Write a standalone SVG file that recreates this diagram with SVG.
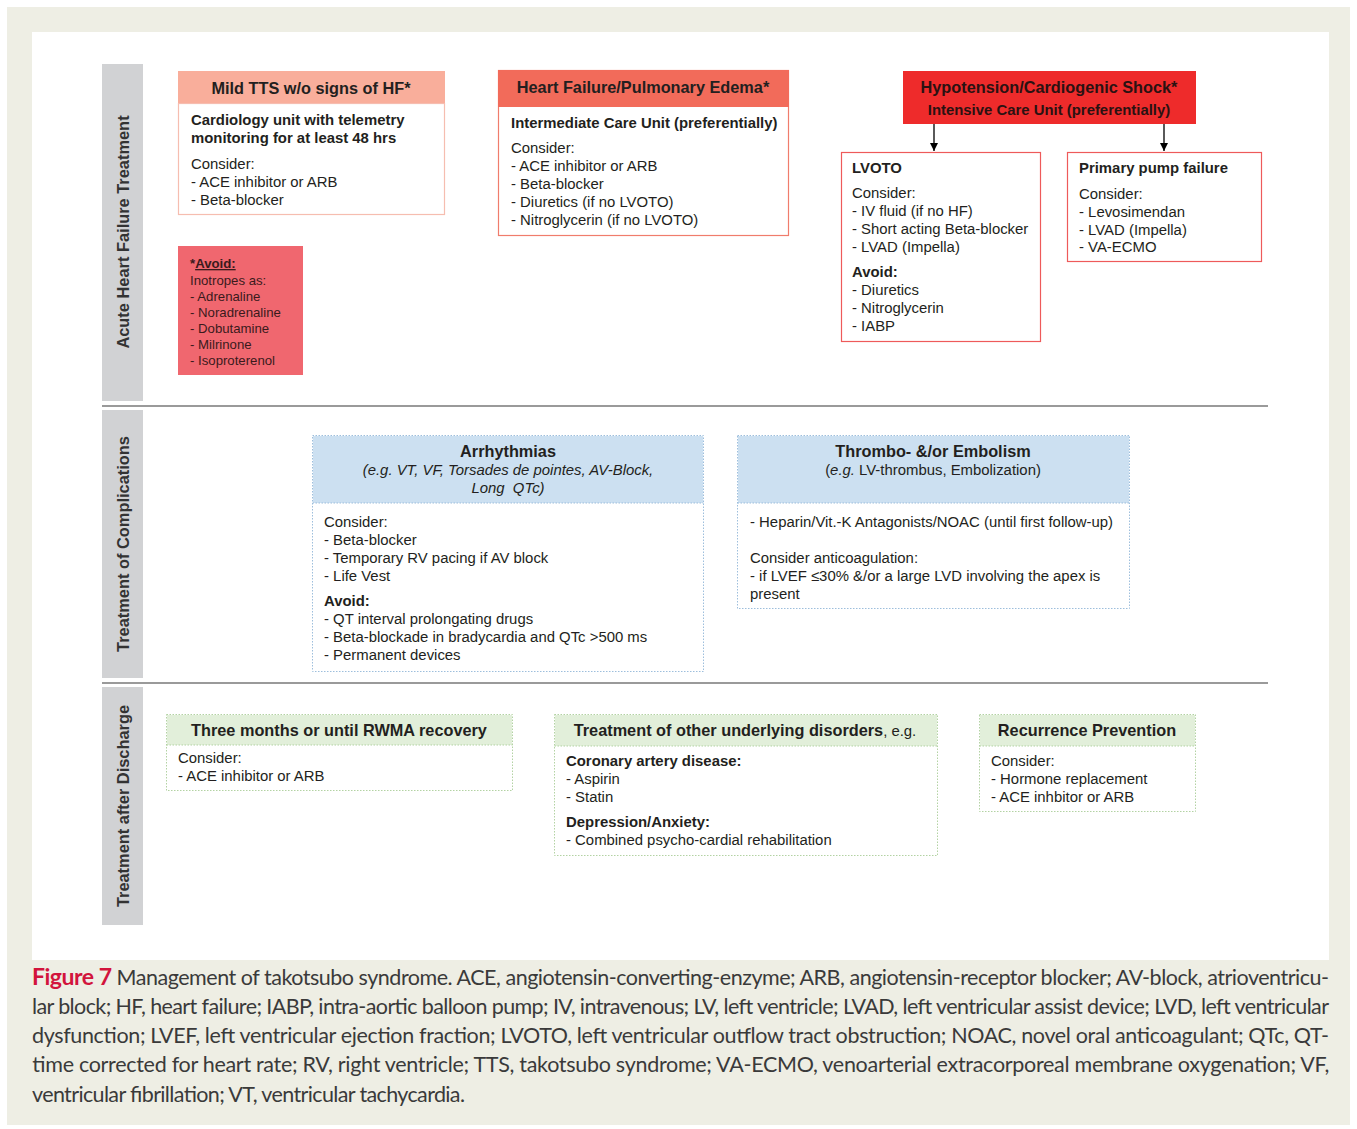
<svg xmlns="http://www.w3.org/2000/svg" width="1357" height="1129" viewBox="0 0 1357 1129">
<style>
  text { font-family: "Liberation Sans", Arial, sans-serif; fill: #231F20; }
  .t { font-size: 14.9px; }
  .b { font-weight: bold; }
  .h { font-size: 16.3px; font-weight: bold; }
  .av { font-size: 13.2px; fill: #3A1A1C; }
  .band { fill: #D1D2D4; }
  .bl { font-size: 16.4px; font-weight: bold; fill: #333; }
  .sep { stroke: #9A9A9A; stroke-width: 2.2; }
  .blueH { fill: #CCE0F1; }
  .blueB { fill: #FFFFFF; stroke: #9DBEDC; stroke-width: 1; stroke-dasharray: 1.5 1.5; }
  .greenH { fill: #E2EFDA; }
  .greenB { fill: #FFFFFF; stroke: #B3D2A3; stroke-width: 1; stroke-dasharray: 1.5 1.5; }
  .cap { font-family: Lato, "Open Sans", sans-serif; font-size: 21.5px; fill: #3A3A3A; }
  .arrow { stroke: #000; stroke-width: 1.3; }
</style>
<defs>
  <marker id="ah" viewBox="0 0 10 10" refX="10" refY="5" markerWidth="8" markerHeight="8" markerUnits="userSpaceOnUse" orient="auto">
    <path d="M0,0 L10,5 L0,10 Z" fill="#000"/>
  </marker>
</defs>

<rect x="0" y="0" width="1357" height="1129" fill="#FFFFFF"/>
<rect x="7" y="7" width="1343" height="1118" fill="#EEEEE4"/>
<rect x="32" y="32" width="1297" height="928" fill="#FFFFFF"/>

<!-- Section bands -->
<g id="band-acute">
  <rect class="band" x="102" y="64" width="41" height="337"/>
  <text class="bl" text-anchor="middle" transform="translate(128.5,232) rotate(-90)">Acute Heart Failure Treatment</text>
</g>
<g id="band-complications">
  <rect class="band" x="102" y="410" width="41" height="268"/>
  <text class="bl" text-anchor="middle" transform="translate(128.5,544) rotate(-90)">Treatment of Complications</text>
</g>
<g id="band-discharge">
  <rect class="band" x="102" y="687" width="41" height="238"/>
  <text class="bl" text-anchor="middle" transform="translate(128.5,806) rotate(-90)">Treatment after Discharge</text>
</g>
<line class="sep" x1="102" y1="406" x2="1268" y2="406"/>
<line class="sep" x1="102" y1="683" x2="1268" y2="683"/>

<!-- Mild TTS -->
<g id="mild-tts">
  <rect x="178.5" y="103.5" width="266" height="111" fill="#FFFFFF" stroke="#F6BDB0" stroke-width="1.2"/>
  <rect x="178" y="71" width="267" height="32" fill="#F9AE9B"/>
  <text class="h" x="311" y="94" text-anchor="middle">Mild TTS w/o signs of HF*</text>
  <text class="t b" x="191" y="125">Cardiology unit with telemetry</text>
  <text class="t b" x="191" y="143">monitoring for at least 48 hrs</text>
  <text class="t" x="191" y="169">Consider:</text>
  <text class="t" x="191" y="187">- ACE inhibitor or ARB</text>
  <text class="t" x="191" y="205">- Beta-blocker</text>
</g>

<!-- Avoid inotropes -->
<g id="avoid-inotropes">
  <rect x="178" y="246" width="125" height="129" fill="#F0676F"/>
  <text class="av b" x="190" y="268">*<tspan text-decoration="underline">Avoid:</tspan></text>
  <text class="av" x="190" y="285">Inotropes as:</text>
  <text class="av" x="190" y="301">- Adrenaline</text>
  <text class="av" x="190" y="317">- Noradrenaline</text>
  <text class="av" x="190" y="333">- Dobutamine</text>
  <text class="av" x="190" y="349">- Milrinone</text>
  <text class="av" x="190" y="365">- Isoproterenol</text>
</g>

<!-- Heart failure -->
<g id="heart-failure">
  <rect x="498.5" y="70.5" width="290" height="165" fill="#FFFFFF" stroke="#F07C6C" stroke-width="1.2"/>
  <rect x="498" y="70" width="291" height="37" fill="#F26B5A"/>
  <text class="h" x="643" y="93" text-anchor="middle">Heart Failure/Pulmonary Edema*</text>
  <text class="t b" x="511" y="128">Intermediate Care Unit (preferentially)</text>
  <text class="t" x="511" y="153">Consider:</text>
  <text class="t" x="511" y="171">- ACE inhibitor or ARB</text>
  <text class="t" x="511" y="189">- Beta-blocker</text>
  <text class="t" x="511" y="207">- Diuretics (if no LVOTO)</text>
  <text class="t" x="511" y="225">- Nitroglycerin (if no LVOTO)</text>
</g>

<!-- Hypotension -->
<g id="hypotension">
  <rect x="903" y="71" width="293" height="53" fill="#EE2B2B"/>
  <text class="h" x="1049" y="93" text-anchor="middle" style="fill:#2A1212">Hypotension/Cardiogenic Shock*</text>
  <text class="t b" x="1049" y="115" text-anchor="middle" style="fill:#2A1212">Intensive Care Unit (preferentially)</text>
</g>

<!-- LVOTO -->
<g id="lvoto">
  <rect x="841.5" y="152.5" width="199" height="189" fill="#FFFFFF" stroke="#EE5A5A" stroke-width="1.2"/>
  <text class="t b" x="852" y="173">LVOTO</text>
  <text class="t" x="852" y="198">Consider:</text>
  <text class="t" x="852" y="216">- IV fluid (if no HF)</text>
  <text class="t" x="852" y="234">- Short acting Beta-blocker</text>
  <text class="t" x="852" y="252">- LVAD (Impella)</text>
  <text class="t b" x="852" y="277">Avoid:</text>
  <text class="t" x="852" y="295">- Diuretics</text>
  <text class="t" x="852" y="313">- Nitroglycerin</text>
  <text class="t" x="852" y="331">- IABP</text>
</g>

<!-- Primary pump failure -->
<g id="pump-failure">
  <rect x="1067.5" y="152.5" width="194" height="109" fill="#FFFFFF" stroke="#EE5A5A" stroke-width="1.2"/>
  <text class="t b" x="1079" y="173">Primary pump failure</text>
  <text class="t" x="1079" y="199">Consider:</text>
  <text class="t" x="1079" y="217">- Levosimendan</text>
  <text class="t" x="1079" y="235">- LVAD (Impella)</text>
  <text class="t" x="1079" y="252">- VA-ECMO</text>
</g>

<!-- Arrhythmias -->
<g id="arrhythmias">
  <rect class="blueB" x="312.5" y="435.5" width="391" height="236"/>
  <rect class="blueH" x="313" y="436" width="390" height="67"/>
  <line x1="312.5" y1="503" x2="703.5" y2="503" stroke="#9DBEDC" stroke-width="1" stroke-dasharray="1.5 1.5"/>
  <text class="h" x="508" y="457" text-anchor="middle">Arrhythmias</text>
  <text class="t" x="508" y="475" text-anchor="middle" font-style="italic">(e.g. VT, VF, Torsades de pointes, AV-Block,</text>
  <text class="t" x="508" y="493" text-anchor="middle" font-style="italic" xml:space="preserve">Long  QTc)</text>
  <text class="t" x="324" y="527">Consider:</text>
  <text class="t" x="324" y="545">- Beta-blocker</text>
  <text class="t" x="324" y="563">- Temporary RV pacing if AV block</text>
  <text class="t" x="324" y="581">- Life Vest</text>
  <text class="t b" x="324" y="606">Avoid:</text>
  <text class="t" x="324" y="624">- QT interval prolongating drugs</text>
  <text class="t" x="324" y="642">- Beta-blockade in bradycardia and QTc &gt;500 ms</text>
  <text class="t" x="324" y="660">- Permanent devices</text>
</g>

<!-- Thrombo -->
<g id="thrombo">
  <rect class="blueB" x="737.5" y="435.5" width="392" height="173"/>
  <rect class="blueH" x="738" y="436" width="391" height="67"/>
  <line x1="737.5" y1="503" x2="1129.5" y2="503" stroke="#9DBEDC" stroke-width="1" stroke-dasharray="1.5 1.5"/>
  <text class="h" x="933" y="457" text-anchor="middle">Thrombo- &amp;/or Embolism</text>
  <text class="t" x="933" y="475" text-anchor="middle">(<tspan font-style="italic">e.g.</tspan> LV-thrombus, Embolization)</text>
  <text class="t" x="750" y="527">- Heparin/Vit.-K Antagonists/NOAC (until first follow-up)</text>
  <text class="t" x="750" y="563">Consider anticoagulation:</text>
  <text class="t" x="750" y="581">- if LVEF ≤30% &amp;/or a large LVD involving the apex is</text>
  <text class="t" x="750" y="599">present</text>
</g>

<!-- Three months -->
<g id="three-months">
  <rect class="greenB" x="166.5" y="714.5" width="346" height="76"/>
  <rect class="greenH" x="167" y="715" width="345" height="30"/>
  <line x1="166.5" y1="745" x2="512.5" y2="745" stroke="#B3D2A3" stroke-width="1" stroke-dasharray="1.5 1.5"/>
  <text class="h" x="339" y="736" text-anchor="middle">Three months or until RWMA recovery</text>
  <text class="t" x="178" y="763">Consider:</text>
  <text class="t" x="178" y="781">- ACE inhibitor or ARB</text>
</g>

<!-- Other underlying disorders -->
<g id="other-disorders">
  <rect class="greenB" x="554.5" y="714.5" width="383" height="141"/>
  <rect class="greenH" x="555" y="715" width="382" height="31"/>
  <line x1="554.5" y1="746" x2="937.5" y2="746" stroke="#B3D2A3" stroke-width="1" stroke-dasharray="1.5 1.5"/>
  <text class="h" x="745" y="736" text-anchor="middle">Treatment of other underlying disorders<tspan style="font-weight:normal;font-size:14.9px">, e.g.</tspan></text>
  <text class="t b" x="566" y="766">Coronary artery disease:</text>
  <text class="t" x="566" y="784">- Aspirin</text>
  <text class="t" x="566" y="802">- Statin</text>
  <text class="t b" x="566" y="827">Depression/Anxiety:</text>
  <text class="t" x="566" y="845">- Combined psycho-cardial rehabilitation</text>
</g>

<!-- Recurrence prevention -->
<g id="recurrence">
  <rect class="greenB" x="979.5" y="714.5" width="216" height="97"/>
  <rect class="greenH" x="980" y="715" width="215" height="31"/>
  <line x1="979.5" y1="746" x2="1195.5" y2="746" stroke="#B3D2A3" stroke-width="1" stroke-dasharray="1.5 1.5"/>
  <text class="h" x="1087" y="736" text-anchor="middle">Recurrence Prevention</text>
  <text class="t" x="991" y="766">Consider:</text>
  <text class="t" x="991" y="784">- Hormone replacement</text>
  <text class="t" x="991" y="802">- ACE inhbitor or ARB</text>
</g>

<!-- Connectors -->
<g id="connectors">
  <line class="arrow" x1="934" y1="124" x2="934" y2="151" marker-end="url(#ah)"/>
  <line class="arrow" x1="1164" y1="124" x2="1164" y2="151" marker-end="url(#ah)"/>
</g>

<!-- Caption -->
<g id="caption">
  <text class="cap" x="32" y="985" textLength="1297" lengthAdjust="spacing"><tspan style="font-weight:bold;fill:#D2143C;font-size:23px">Figure 7</tspan> Management of takotsubo syndrome. ACE, angiotensin-converting-enzyme; ARB, angiotensin-receptor blocker; AV-block, atrioventricu-</text>
  <text class="cap" x="32" y="1014" textLength="1297" lengthAdjust="spacing">lar block; HF, heart failure; IABP, intra-aortic balloon pump; IV, intravenous; LV, left ventricle; LVAD, left ventricular assist device; LVD, left ventricular</text>
  <text class="cap" x="32" y="1043" textLength="1297" lengthAdjust="spacing">dysfunction; LVEF, left ventricular ejection fraction; LVOTO, left ventricular outflow tract obstruction; NOAC, novel oral anticoagulant; QTc, QT-</text>
  <text class="cap" x="32" y="1072" textLength="1297" lengthAdjust="spacing">time corrected for heart rate; RV, right ventricle; TTS, takotsubo syndrome; VA-ECMO, venoarterial extracorporeal membrane oxygenation; VF,</text>
  <text class="cap" x="32" y="1102" textLength="433" lengthAdjust="spacing">ventricular fibrillation; VT, ventricular tachycardia.</text>
</g>
</svg>
